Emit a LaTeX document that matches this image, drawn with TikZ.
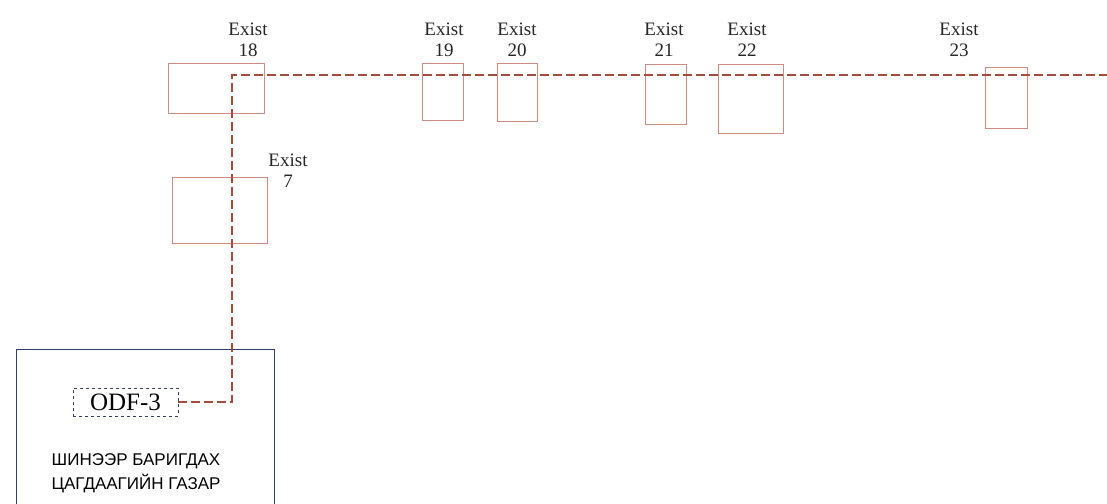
\documentclass[tikz,border=0pt]{standalone}
\usepackage{fontspec}
\setmainfont{Liberation Serif}
\newfontfamily\cyrsans{Liberation Sans}
\usetikzlibrary{positioning}
\definecolor{boxred}{RGB}{205,140,130}
\definecolor{fibercol}{RGB}{165,75,60}
\definecolor{navy}{RGB}{50,62,100}
\begin{document}
\begin{tikzpicture}[x=1pt,y=-1pt,
  pole/.style={draw=boxred, line width=0.9pt, inner sep=0pt},
  lbl/.style={align=center, font=\fontsize{19}{21}\selectfont, inner sep=0pt, text=black!85},
  fiber/.style={draw=fibercol, line width=1.1pt, dash pattern=on 9pt off 4pt},
  bldg/.style={draw=navy, line width=0.8pt},
  odfbox/.style={draw=navy, dashed, line width=0.8pt, font=\fontsize{25}{26}\selectfont, minimum width=105pt, minimum height=28pt, inner sep=0pt}
]
\useasboundingbox (0,0) rectangle (1107,503);
\fill[white] (0,0) rectangle (1107,503);
% poles
\node[pole, minimum width=96pt, minimum height=50pt] (p18) at (216,88) {};
\node[pole, minimum width=41pt, minimum height=57pt] (p19) at (442.5,91.5) {};
\node[pole, minimum width=40pt, minimum height=58pt] (p20) at (517,92) {};
\node[pole, minimum width=41pt, minimum height=60pt] (p21) at (665.5,94) {};
\node[pole, minimum width=65pt, minimum height=69pt] (p22) at (750.5,98.5) {};
\node[pole, minimum width=42pt, minimum height=61pt] (p23) at (1006,97.5) {};
\node[pole, minimum width=95pt, minimum height=66pt] (p7) at (219.5,210) {};
% labels
\node[lbl] (l18) at (248,40) {Exist\\18};
\node[lbl] (l19) at (444,40) {Exist\\19};
\node[lbl] (l20) at (517,40) {Exist\\20};
\node[lbl] (l21) at (664,40) {Exist\\21};
\node[lbl] (l22) at (747,40) {Exist\\22};
\node[lbl] (l23) at (959,40) {Exist\\23};
\node[lbl] (l7) at (288,171) {Exist\\7};
% building
\draw[bldg] (16,520) -- (16,349) -- (274,349) -- (274,520);
\node[odfbox] (odf) at (125.5,402) {ODF-3};
\node[align=center, font=\cyrsans\fontsize{17}{24}\selectfont, inner sep=0pt] (bname) at (136,473) {ШИНЭЭР БАРИГДАХ\\ЦАГДААГИЙН ГАЗАР};
% fiber route
\coordinate (bend) at (232,75);
\coordinate (rend) at (1107,75);
\draw[fiber] (odf.east) -| (bend) -- (rend);
\end{tikzpicture}
\end{document}
